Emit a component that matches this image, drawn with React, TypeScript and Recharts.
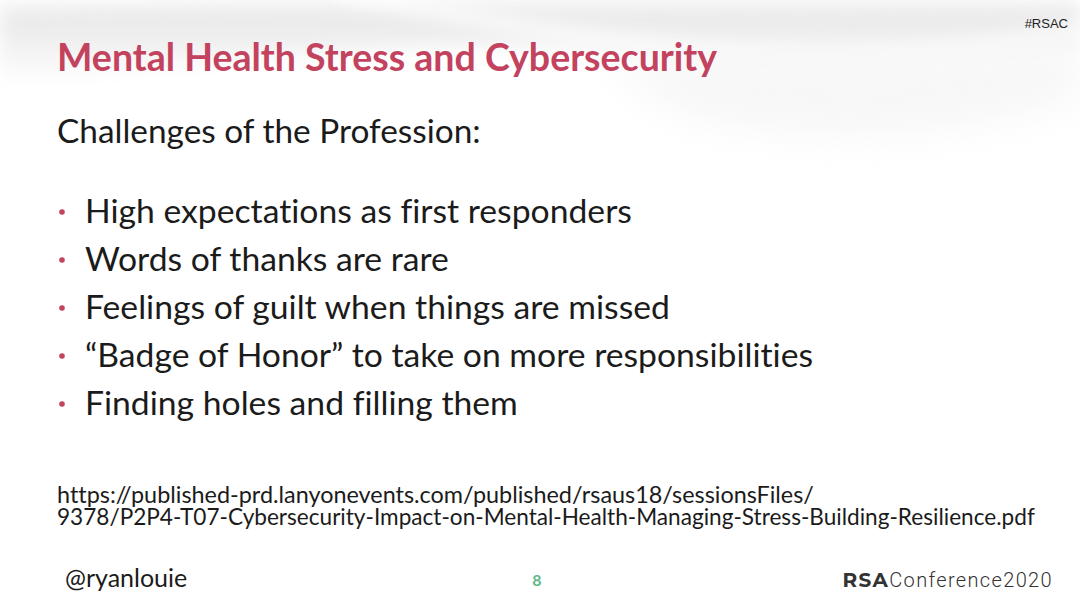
import React from 'react';
import { ScatterChart, Scatter, XAxis, YAxis } from 'recharts';

const title = 'Mental Health Stress and Cybersecurity';
const subtitle = 'Challenges of the Profession:';
const bullets = [
  'High expectations as first responders',
  'Words of thanks are rare',
  'Feelings of guilt when things are missed',
  '\u201CBadge of Honor\u201D to take on more responsibilities',
  'Finding holes and filling them',
];
const sourceLines = [
  'https://published-prd.lanyonevents.com/published/rsaus18/sessionsFiles/',
  '9378/P2P4-T07-Cybersecurity-Impact-on-Mental-Health-Managing-Stress-Building-Resilience.pdf',
];
const handle = '@ryanlouie';
const pageNumber = '8';
const tag = '#RSAC';

const bulletRows = bullets.map((text, i) => ({ level: 0, row: i, text }));

const PINK = '#C3435F';
const INK = '#1b1b1b';
const FONT = 'Lato, "Open Sans", sans-serif';
const noLig = { fontVariantLigatures: 'none' } as React.CSSProperties;

const BulletShape = (props: any) => {
  const { cx, cy, payload } = props;
  return (
    <g>
      <circle cx={cx} cy={cy} r={2.8} fill={PINK} />
      <text x={cx + 23} y={cy + 11} fontFamily={FONT} fontSize={33.7} fill={INK} style={noLig}>
        {payload.text}
      </text>
    </g>
  );
};

const Background = () => (
  <svg width={1080} height={608} style={{ position: 'absolute', left: 0, top: 0 }}>
    <defs>
      <linearGradient id="topFade" x1="0" y1="0" x2="0" y2="1">
        <stop offset="0" stopColor="#f2f2f2" />
        <stop offset="0.25" stopColor="#e9e9e9" />
        <stop offset="1" stopColor="#ffffff" />
      </linearGradient>
      <filter id="soft" x="-20%" y="-50%" width="140%" height="200%">
        <feGaussianBlur stdDeviation="9" />
      </filter>
      <filter id="softer" x="-20%" y="-50%" width="140%" height="200%">
        <feGaussianBlur stdDeviation="18" />
      </filter>
    </defs>
    <rect width={1080} height={608} fill="#ffffff" />
    <path d="M0,5 C200,0 700,0 1080,0 V45 C900,60 760,66 620,52 C480,38 300,50 0,85 Z" fill="url(#topFade)" filter="url(#soft)" />
    <path d="M340,-8 C460,15 570,40 710,50 C860,60 980,50 1090,30" stroke="#ffffff" strokeWidth={12} fill="none" filter="url(#soft)" />
    <path d="M600,62 C720,52 900,55 1080,45 V100 C950,140 820,150 680,115 Z" fill="#f0f0f0" opacity={0.5} filter="url(#softer)" />
  </svg>
);

export default function App() {
  return (
    <div style={{ position: 'absolute', left: 0, top: 0, width: 1080, height: 608, background: '#fff' }}>
      <Background />
      <div style={{ position: 'absolute', left: 0, top: 0 }}>
        <ScatterChart width={1080} height={608} margin={{ top: 212, right: 0, bottom: 204, left: 62 }}>
          <XAxis type="number" dataKey="level" domain={[0, 1]} hide />
          <YAxis type="number" dataKey="row" domain={[0, 4]} reversed hide />
          <Scatter data={bulletRows} shape={BulletShape} isAnimationActive={false} />
          <text x={57} y={71} fontFamily={FONT} fontWeight={700} fontSize={37.5} fill={PINK} style={noLig}>
            {title}
          </text>
          <text x={57} y={143} fontFamily={FONT} fontSize={33.4} fill={INK} style={noLig}>
            {subtitle}
          </text>
          {sourceLines.map((line, i) => (
            <text key={i} x={57} y={503 + i * 22} fontFamily={FONT} fontSize={i === 0 ? 23.4 : 22.6} fill={INK} style={noLig}>
              {line}
            </text>
          ))}
          <text x={65} y={587} fontFamily={FONT} fontSize={25} fill={INK}>
            {handle}
          </text>
          <text x={537} y={586} textAnchor="middle" fontFamily={FONT} fontWeight={700} fontSize={16} fill="#5fb88a">
            {pageNumber}
          </text>
          <text x={1053} y={587} textAnchor="end" fontFamily="Roboto, sans-serif" fontSize={20} letterSpacing={1.35} fill="#333">
            <tspan fontWeight={700} fontFamily="Montserrat, Roboto, sans-serif">RSA</tspan>
            <tspan fontWeight={300}>Conference2020</tspan>
          </text>
          <text x={1068} y={28} textAnchor="end" fontFamily='"Liberation Sans Narrow", "Liberation Sans", sans-serif' fontSize={13} fill="#222">
            {tag}
          </text>
        </ScatterChart>
      </div>
    </div>
  );
}
